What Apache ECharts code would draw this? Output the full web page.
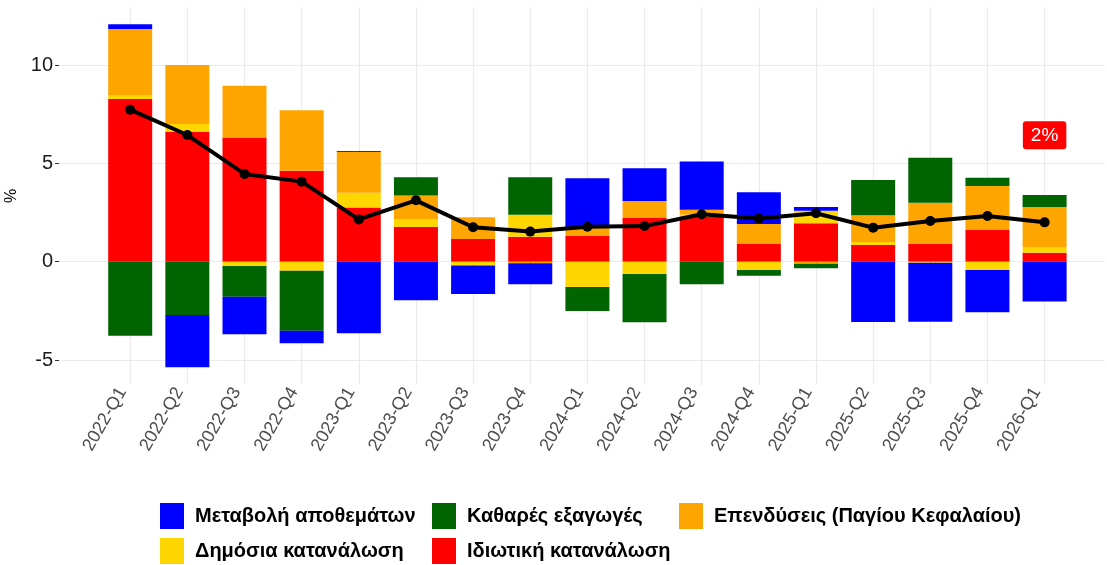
<!DOCTYPE html>
<html>
<head>
<meta charset="utf-8">
<script src="https://cdn.jsdelivr.net/npm/echarts@6/dist/echarts.min.js"></script>
<style>
  html, body { margin: 0; padding: 0; background: #fff; }
  #chart { width: 1107px; height: 565px; }
</style>
</head>
<body>
<div id="chart"></div>
<script>
// data
const quarters = ['2022-Q1', '2022-Q2', '2022-Q3', '2022-Q4', '2023-Q1', '2023-Q2', '2023-Q3', '2023-Q4',
  '2024-Q1', '2024-Q2', '2024-Q3', '2024-Q4', '2025-Q1', '2025-Q2', '2025-Q3', '2025-Q4', '2026-Q1'];
const privateCons = [8.27, 6.59, 6.31, 4.63, 2.75, 1.76, 1.15, 1.27, 1.31, 2.22, 2.30, 0.93, 1.95, 0.85, 0.90, 1.61, 0.46];
const publicCons = [0.20, 0.41, -0.22, -0.46, 0.76, 0.41, -0.20, 1.12, -1.29, -0.63, 0.10, -0.42, 0.64, 0.15, -0.05, -0.42, 0.29];
const investment = [3.36, 3.00, 2.64, 3.07, 2.07, 1.19, 1.11, -0.08, 0.44, 0.87, 0.24, 0.99, -0.10, 1.36, 2.10, 2.24, 2.03];
const netExports = [-3.76, -2.71, -1.56, -3.05, 0.05, 0.93, 0, 1.90, -1.22, -2.45, -1.15, -0.29, -0.23, 1.79, 2.29, 0.42, 0.61];
const inventories = [0.24, -2.66, -1.91, -0.64, -3.64, -1.96, -1.44, -1.07, 2.49, 1.66, 2.46, 1.61, 0.19, -3.07, -3.00, -2.15, -2.03];
const gdp = [7.73, 6.44, 4.46, 4.07, 2.15, 3.12, 1.75, 1.53, 1.78, 1.81, 2.41, 2.20, 2.46, 1.73, 2.07, 2.32, 2.00];
const yTicks = [-5, 0, 5, 10];

const names = {
  inv: 'Μεταβολή αποθεμάτων',
  nx: 'Καθαρές εξαγωγές',
  gfcf: 'Επενδύσεις (Παγίου Κεφαλαίου)',
  pub: 'Δημόσια κατανάλωση',
  priv: 'Ιδιωτική κατανάλωση'
};

const font = "'Liberation Sans', Arial, sans-serif";
const yMin = -6.24, yMax = 12.94;

function barSeries(name, data, color) {
  return {
    name: name,
    type: 'bar',
    xAxisIndex: 1,
    yAxisIndex: 1,
    stack: 'gdp',
    barWidth: 44,
    clip: false,
    itemStyle: { color: color },
    data: data
  };
}

function legendItem(name, left, top) {
  return {
    data: [name],
    left: left,
    top: top,
    padding: 0,
    icon: 'rect',
    itemWidth: 24,
    itemHeight: 26,
    selectedMode: false,
    textStyle: { fontFamily: font, fontSize: 20, fontWeight: 'bold', color: '#000', padding: [0, 0, 0, 6] }
  };
}

const chart = echarts.init(document.getElementById('chart'));
const last = gdp.length - 1;

chart.setOption({
  animation: false,
  textStyle: { fontFamily: font },
  grid: [
    // full plot panel (horizontal grid lines, y labels)
    { left: 59, right: 2, top: 7.2, bottom: 180.6, outerBoundsMode: 'none' },
    // category centres: first at 130.2, last at 1044.6
    { left: 130.2, right: 62.4, top: 7.2, bottom: 180.6, outerBoundsMode: 'none' }
  ],
  legend: [
    legendItem(names.inv, 160, 503),
    legendItem(names.nx, 432, 503),
    legendItem(names.gfcf, 679, 503),
    legendItem(names.pub, 160, 538),
    legendItem(names.priv, 432, 538)
  ],
  xAxis: [
    { type: 'value', gridIndex: 0, min: 0, max: 1, show: false },
    {
      type: 'category',
      gridIndex: 1,
      data: quarters,
      boundaryGap: false,
      axisLine: { show: false },
      axisTick: { show: true, length: 4, lineStyle: { color: '#333' } },
      axisLabel: { rotate: 60, fontSize: 18, color: '#4D4D4D', margin: 9, interval: 0, verticalAlign: 'bottom' },
      splitLine: { show: true, lineStyle: { color: '#EBEBEB', width: 1.2 } }
    }
  ],
  yAxis: [
    {
      type: 'value',
      gridIndex: 0,
      min: yMin,
      max: yMax,
      name: '%',
      nameLocation: 'middle',
      nameRotate: 90,
      nameGap: 33,
      nameTextStyle: { fontSize: 16, color: '#000' },
      axisLine: { show: false },
      axisTick: { show: true, length: 4, customValues: yTicks, lineStyle: { color: '#333' } },
      axisLabel: { customValues: yTicks, fontSize: 20, color: '#1A1A1A', margin: 6 },
      splitLine: { show: true, lineStyle: { color: '#EBEBEB', width: 1.2 } }
    },
    { type: 'value', gridIndex: 1, min: yMin, max: yMax, show: false }
  ],
  series: [
    barSeries(names.priv, privateCons, '#FF0000'),
    barSeries(names.pub, publicCons, '#FFD700'),
    barSeries(names.gfcf, investment, '#FFA500'),
    barSeries(names.nx, netExports, '#006400'),
    barSeries(names.inv, inventories, '#0000FF'),
    {
      name: 'ΑΕΠ',
      type: 'line',
      xAxisIndex: 1,
      yAxisIndex: 1,
      symbol: 'circle',
      symbolSize: 10,
      clip: false,
      lineStyle: { color: '#000', width: 4 },
      itemStyle: { color: '#000' },
      z: 5,
      data: gdp.map((v, i) => i === last ? {
        value: v,
        label: {
          show: true,
          position: 'inside',
          offset: [0, -87],
          formatter: (p) => Math.round(p.value) + '%',
          backgroundColor: '#FF0000',
          color: '#fff',
          fontSize: 19,
          padding: [5, 8, 4, 8],
          borderRadius: 3
        }
      } : v)
    }
  ]
});
</script>
</body>
</html>
